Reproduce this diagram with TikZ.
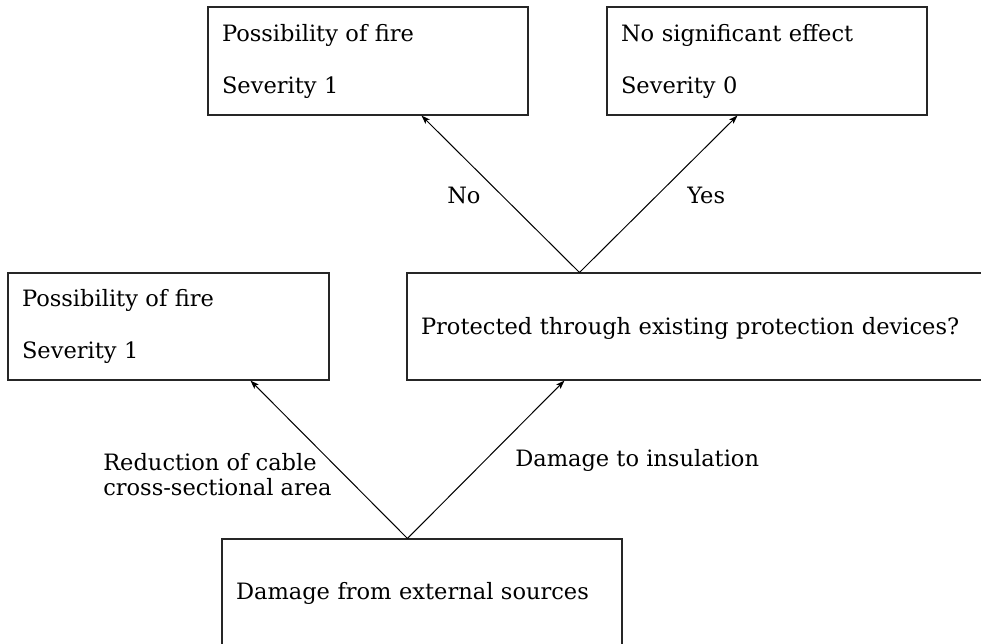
\documentclass[tikz,border=0pt]{standalone}
\usepackage{fontspec}
\setmainfont{DejaVu Serif}
\usetikzlibrary{arrows.meta,calc}

\begin{document}
\begin{tikzpicture}[
  x=0.75pt, y=-0.75pt,
  box/.style={draw=black!85, line width=0.8pt, rectangle, inner xsep=10.5pt, inner ysep=0pt,
              align=left, anchor=center},
  twoline/.style={box, font=\fontsize{16.9pt}{39pt}\selectfont},
  oneline/.style={box, font=\fontsize{16.9pt}{20.3pt}\selectfont, text height=15.8pt, text depth=4pt},
  lbl/.style={inner sep=0pt, font=\fontsize{16.9pt}{18.75pt}\selectfont, align=left},
  arr/.style={draw=black, line width=0.75pt, -{Stealth[length=6.5pt,width=4.5pt,inset=1.5pt]}}
]
\useasboundingbox (0,0) rectangle (981,643);
\clip (0,0) rectangle (981,643);

% outcome boxes
\node[twoline, minimum width=240pt, minimum height=81pt, text width=219pt] (fireTop) at (368,61)
  {Possibility of fire\\Severity 1};
\node[twoline, minimum width=240pt, minimum height=81pt, text width=219pt] (noEffect) at (767,61)
  {No significant effect\\Severity 0};
\node[twoline, minimum width=240.75pt, minimum height=80.25pt, text width=219.75pt] (fireLeft) at (168.5,326.5)
  {Possibility of fire\\Severity 1};

% question and cause boxes
\node[oneline, minimum width=437.25pt, minimum height=80.25pt, text width=416.25pt] (protected) at (698.5,326.5)
  {Protected through existing protection devices?};
\node[oneline, minimum width=300pt, minimum height=79.5pt, text width=279pt] (damage) at (422,592)
  {Damage from external sources};

% branch points on the top edges
\coordinate (splitQ) at ($(protected.north west)+(173,0)$);
\coordinate (splitD) at ($(damage.north west)+(186,0)$);

% connectors
\draw[arr] (splitQ) -- ($(fireTop.south west)+(214,0)$);
\draw[arr] (splitQ) -- ($(noEffect.south west)+(131,0)$);
\draw[arr] (splitD) -- ($(fireLeft.south west)+(243,0)$);
\draw[arr] (splitD) -- ($(protected.south west)+(158,0)$);

% branch labels
\node[lbl, anchor=base west] (lblNo) at (447,203) {No};
\node[lbl, anchor=base west] (lblYes) at (687,203) {Yes};
\node[lbl, anchor=base west] (lblIns) at (515,466) {Damage to insulation};
\node[lbl, anchor=north west] (lblRed) at (103,452.8) {Reduction of cable\\cross-sectional area};
\end{tikzpicture}
\end{document}
